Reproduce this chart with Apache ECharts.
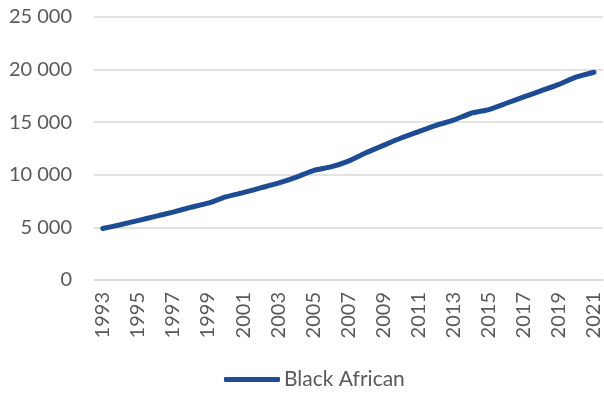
<!DOCTYPE html>
<html>
<head>
<meta charset="utf-8">
<script src="https://cdn.jsdelivr.net/npm/echarts@6/dist/echarts.min.js"></script>
<style>
  html, body { margin: 0; padding: 0; background: #ffffff; }
  #chart { width: 604px; height: 396px; }
</style>
</head>
<body>
<div id="chart"></div>
<script>
// Years on the category axis
const years = [
  '1993','1994','1995','1996','1997','1998','1999','2000','2001','2002',
  '2003','2004','2005','2006','2007','2008','2009','2010','2011','2012',
  '2013','2014','2015','2016','2017','2018','2019','2020','2021'
];

// Black African series values
const blackAfrican = [
  4900, 5250, 5650, 6050, 6450, 6900, 7300, 7900, 8300, 8750,
  9200, 9750, 10400, 10750, 11300, 12100, 12800, 13500, 14100, 14700,
  15200, 15850, 16200, 16800, 17400, 18000, 18600, 19300, 19750
];

// Value axis ticks
const yTicks = [0, 5000, 10000, 15000, 20000, 25000];

const fontFamily = 'Lato, "Open Sans", sans-serif';
const textColor = '#595959';
const lineColor = '#1d4b94';

const chart = echarts.init(document.getElementById('chart'));
chart.setOption({
  animation: false,
  textStyle: { fontFamily: fontFamily },
  grid: { left: 94, right: 0, top: 17, bottom: 116, containLabel: false },
  legend: {
    bottom: 1,
    left: 219,
    icon: 'roundRect',
    itemWidth: 56,
    itemHeight: 5,
    itemGap: 10,
    textStyle: { color: textColor, fontSize: 21, fontFamily: fontFamily, padding: [0, 0, 0, -1] },
    data: ['Black African']
  },
  xAxis: {
    type: 'category',
    data: years,
    boundaryGap: true,
    axisLine: { show: true, lineStyle: { color: '#d9d9d9', width: 1.5 } },
    axisTick: { show: false },
    axisLabel: {
      interval: 1,
      rotate: 90,
      margin: 12,
      color: textColor,
      fontSize: 20,
      fontFamily: fontFamily
    }
  },
  yAxis: {
    type: 'value',
    min: yTicks[0],
    max: yTicks[yTicks.length - 1],
    interval: yTicks[1] - yTicks[0],
    axisLine: { show: false },
    axisTick: { show: false },
    splitLine: { lineStyle: { color: '#d9d9d9', width: 1.5 } },
    axisLabel: {
      margin: 22,
      color: textColor,
      fontSize: 20,
      fontFamily: fontFamily,
      formatter: v => String(v).replace(/\B(?=(\d{3})+(?!\d))/g, ' ')
    }
  },
  series: [{
    name: 'Black African',
    type: 'line',
    data: blackAfrican,
    showSymbol: false,
    symbol: 'none',
    smooth: 0.15,
    lineStyle: { color: lineColor, width: 5, cap: 'round', join: 'round' },
    itemStyle: { color: lineColor }
  }]
});
</script>
</body>
</html>
